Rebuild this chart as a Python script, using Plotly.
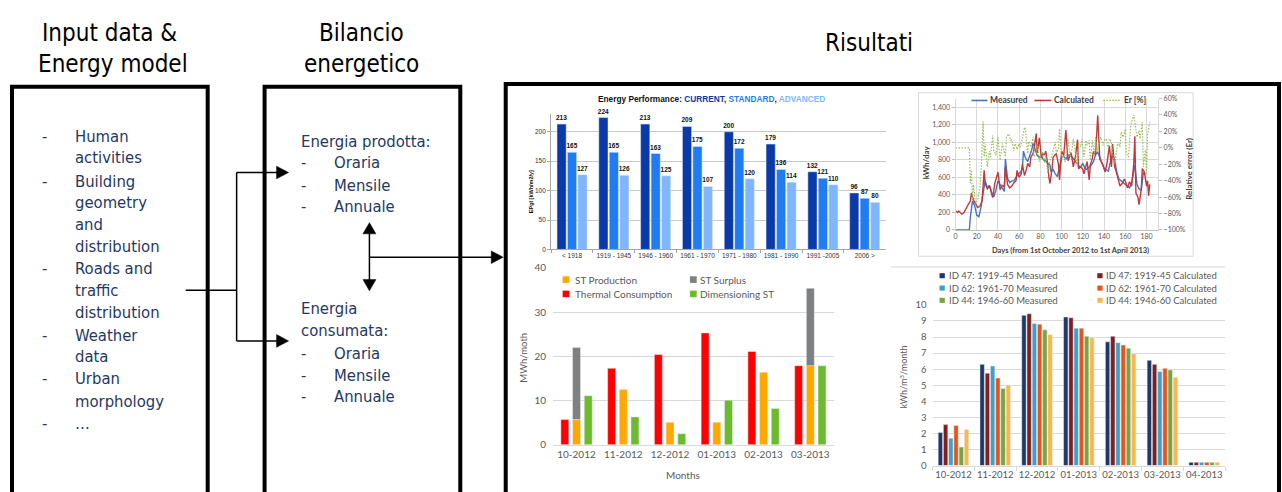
import plotly.graph_objects as go

W, H = 1282, 492
def X(p): return p / W
def Y(p): return 1 - p / H

# ---------------- data ----------------
periods = ["< 1918", "1919 - 1945", "1946 - 1960", "1961 - 1970", "1971 - 1980",
           "1981 - 1990", "1991 -2005", "2006 >"]
ep_current = [213, 224, 213, 209, 200, 179, 132, 96]
ep_standard = [165, 165, 163, 175, 172, 136, 121, 87]
ep_advanced = [127, 126, 125, 107, 120, 114, 110, 80]

meas_days = [0, 2, 4, 6, 8, 10, 12, 13, 14, 16, 18, 20, 22, 24, 26, 28, 30, 32, 34, 36, 38, 40, 42, 44, 46, 47,
             49, 51, 53, 55, 57, 59, 61, 63, 64, 66, 68, 70, 72, 73, 75, 77, 79, 81, 83, 85, 87, 89, 90, 92, 94,
             96, 98, 100, 102, 104, 106, 108, 110, 112, 114, 116, 118, 120, 122, 124, 126, 128, 130, 132, 134,
             136, 138, 140, 142, 144, 146, 148, 150, 152, 154, 156, 158, 160, 162, 164, 166, 168, 169, 171, 173,
             175, 177, 179]
meas_vals = [0, 0, 0, 0, 0, 0, 0, 0, 150, 330, 280, 170, 150, 260, 420, 560, 480, 510, 430, 380, 450, 560, 520,
             480, 440, 810, 590, 540, 560, 560, 600, 640, 650, 700, 900, 820, 780, 850, 920, 990, 920, 850, 830,
             840, 800, 790, 760, 740, 660, 690, 640, 610, 720, 830, 840, 810, 850, 860, 830, 800, 760, 730, 720,
             760, 700, 690, 720, 740, 780, 860, 890, 820, 760, 700, 690, 670, 780, 850, 800, 660, 580, 560, 540,
             510, 490, 480, 540, 680, 740, 520, 470, 450, 650, 640]

calc_days = [0, 2, 3, 4, 6, 8, 10, 12, 14, 15, 17, 19, 21, 23, 25, 27, 28, 30, 32, 33, 35, 37, 39, 40, 42, 44, 46,
             47, 49, 51, 53, 55, 57, 58, 60, 62, 63, 65, 67, 68, 70, 71, 73, 74, 76, 77, 79, 81, 82, 84, 85, 87,
             88, 89, 91, 92, 94, 95, 97, 98, 100, 102, 104, 106, 108, 109, 111, 113, 115, 116, 118, 120, 121, 123,
             124, 126, 127, 129, 130, 132, 134, 136, 138, 139, 141, 143, 145, 147, 148, 150, 152, 153, 155, 157,
             159, 160, 162, 164, 166, 168, 169, 170, 172, 173, 175, 176, 178, 180, 181, 182, 183]
calc_vals = [220, 200, 215, 205, 180, 200, 250, 290, 330, 420, 340, 290, 255, 270, 330, 680, 530, 470, 500, 460,
             370, 530, 600, 660, 460, 510, 490, 720, 520, 480, 500, 540, 560, 680, 600, 640, 750, 620, 700, 760,
             720, 830, 870, 920, 1100, 880, 1050, 820, 870, 860, 900, 740, 600, 530, 700, 830, 860, 870, 750, 570,
             900, 850, 1140, 790, 850, 880, 720, 840, 1030, 700, 720, 690, 640, 760, 780, 570, 740, 820, 900, 850,
             1310, 810, 760, 740, 660, 780, 960, 720, 980, 720, 640, 600, 500, 530, 580, 560, 480, 550, 500, 760,
             1070, 420, 370, 290, 460, 700, 660, 500, 560, 390, 520]

er_days = [0, 2, 4, 6, 8, 10, 12, 13, 14, 15, 16, 17, 19, 21, 23, 24, 26, 27, 28, 30, 32, 33, 35, 36, 38, 40, 42,
           44, 45, 47, 48, 50, 52, 53, 55, 56, 58, 60, 61, 63, 65, 66, 68, 69, 71, 73, 74, 76, 77, 79, 81, 82, 84,
           85, 87, 89, 90, 92, 94, 95, 97, 98, 100, 102, 103, 105, 106, 108, 110, 111, 113, 115, 116, 118, 119,
           121, 123, 124, 126, 127, 129, 131, 132, 134, 135, 137, 139, 140, 142, 144, 145, 147, 148, 150, 152,
           153, 155, 156, 158, 160, 161, 163, 165, 166, 168, 169, 171, 173, 174, 176, 177, 179, 180, 181, 183]
er_vals = [0, 0, 0, 0, 0, 0, 0, 0, -43, -27, -63, -45, -69, -63, -47, -31, 32, -11, 5, -23, -4, -11, 15, -3, -9,
           13, -15, 5, 1, -11, 13, 17, 9, 10, -4, 5, -2, 5, 1, 11, 25, 21, -7, 8, 1, 13, -11, -7, 5, -17, -7, -5,
           -19, -9, -31, -15, -13, -3, 7, -7, -1, 23, -11, -9, -17, -5, 11, -11, -1, 11, -7, -23, 5, 1, 11, -11,
           9, 3, 9, -15, 9, -9, 13, -5, 5, 13, 3, 9, 11, -1, 11, 7, -7, -19, -1, 7, 1, 19, 13, 23, -7, -11, 25,
           32, 40, 29, 13, 21, 11, 31, -23, -3, -31, 17, 31]

months3 = ["10-2012", "11-2012", "12-2012", "01-2013", "02-2013", "03-2013"]
thermal = [5.7, 17.3, 20.4, 25.3, 21.1, 17.9]
st_prod = [5.7, 12.5, 5.1, 5.1, 16.4, 17.9]
st_surplus = [16.3, None, None, None, None, 17.5]
dim_st = [11.1, 6.3, 2.5, 10.1, 8.2, 17.9]

months4 = ["10-2012", "11-2012", "12-2012", "01-2013", "02-2013", "03-2013", "04-2013"]
id47_meas = [2.05, 6.3, 9.35, 9.25, 7.7, 6.55, 0.2]
id47_calc = [2.55, 5.75, 9.45, 9.2, 8.05, 6.3, 0.2]
id62_meas = [1.7, 6.2, 8.85, 8.55, 7.65, 5.85, 0.2]
id62_calc = [2.5, 5.45, 8.8, 8.55, 7.5, 6.05, 0.2]
id44_meas = [1.15, 4.8, 8.45, 8.05, 7.3, 5.95, 0.2]
id44_calc = [2.25, 5.0, 8.15, 7.95, 6.95, 5.5, 0.2]

# ---------------- styles ----------------
ARIAL = "Liberation Sans, Arial, sans-serif"
NARROW = "Liberation Sans Narrow, Arial Narrow, DejaVu Sans Condensed, sans-serif"
CAL = "Lato, Carlito, Calibri, sans-serif"
NAVY_TXT = "#1f3864"
GRID = "#d9d9d9"
TICK = "#595959"

C_CUR, C_STD, C_ADV = "#0a3aa8", "#1f7cf2", "#80b6ff"
C_MEAS, C_CALC, C_ER = "#4472c4", "#c0393b", "#9bbb59"
C_RED, C_ORG, C_GRY, C_GRN = "#ff0000", "#ffa800", "#808080", "#6cbb2c"
C4 = ["#1f3864", "#7f1f1f", "#3d9fca", "#e2561c", "#77a43b", "#fdb64c"]

fig = go.Figure()

# ---- chart 1: energy performance ----
for vals, col, name in [(ep_current, C_CUR, "CURRENT"), (ep_standard, C_STD, "STANDARD"),
                        (ep_advanced, C_ADV, "ADVANCED")]:
    fig.add_trace(go.Bar(x=periods, y=vals, name=name, marker_color=col, width=0.22,
                         text=vals, texttemplate="<b>%{text}</b>", textposition="outside",
                         textfont=dict(size=6.5, family=ARIAL, color="#111"), constraintext="none",
                         cliponaxis=False, showlegend=False, xaxis="x", yaxis="y"))

# ---- chart 2: daily lines ----
fig.add_trace(go.Scatter(x=meas_days, y=meas_vals, mode="lines", name="Measured",
                         line=dict(color=C_MEAS, width=1.4), showlegend=False, xaxis="x2", yaxis="y2"))
fig.add_trace(go.Scatter(x=calc_days, y=calc_vals, mode="lines", name="Calculated",
                         line=dict(color=C_CALC, width=1.4), showlegend=False, xaxis="x2", yaxis="y2"))
fig.add_trace(go.Scatter(x=er_days, y=er_vals, mode="lines", name="Er [%]",
                         line=dict(color=C_ER, width=1.2, dash="1.5px,1.5px"), showlegend=False,
                         xaxis="x2", yaxis="y3"))

# ---- chart 3: ST bars ----
fig.add_trace(go.Bar(x=months3, y=thermal, name="Thermal Consumption", marker_color=C_RED, width=0.17,
                     offsetgroup="a", showlegend=False, xaxis="x4", yaxis="y4"))
fig.add_trace(go.Bar(x=months3, y=st_prod, name="ST Production", marker_color=C_ORG, width=0.17,
                     offsetgroup="b", showlegend=False, xaxis="x4", yaxis="y4"))
fig.add_trace(go.Bar(x=months3, y=st_surplus, base=st_prod, name="ST Surplus", marker_color=C_GRY, width=0.17,
                     offsetgroup="b", showlegend=False, xaxis="x4", yaxis="y4"))
fig.add_trace(go.Bar(x=months3, y=dim_st, name="Dimensioning ST", marker_color=C_GRN, width=0.17,
                     offsetgroup="c", showlegend=False, xaxis="x4", yaxis="y4"))

# ---- chart 4: buildings ----
names4 = ["ID 47: 1919-45 Measured", "ID 47: 1919-45 Calculated", "ID 62: 1961-70 Measured",
          "ID 62: 1961-70 Calculated", "ID 44: 1946-60 Measured", "ID 44: 1946-60 Calculated"]
for vals, col, nm in zip([id47_meas, id47_calc, id62_meas, id62_calc, id44_meas, id44_calc], C4, names4):
    fig.add_trace(go.Bar(x=months4, y=vals, name=nm, marker_color=col, width=0.105,
                         showlegend=False, xaxis="x5", yaxis="y5"))

# ---------------- axes ----------------
tf1 = dict(size=6.5, family=ARIAL, color="#333")
layout_axes = dict(
    xaxis=dict(domain=[X(550), X(885)], anchor="y", type="category", showline=True, linecolor="#a6a6a6",
               ticks="outside", tickson="boundaries", ticklen=3, tickcolor="#a6a6a6", tickfont=tf1,
               tickangle=0, showgrid=False),
    yaxis=dict(domain=[Y(249), Y(110)], anchor="x", range=[0, 230], dtick=50, showline=True,
               linecolor="#a6a6a6", ticks="outside", ticklen=3, tickcolor="#a6a6a6", tickfont=tf1,
               gridcolor="#c8c8c8", zeroline=False),
    xaxis2=dict(domain=[X(955), X(1158)], anchor="y2", range=[0, 191], tick0=0, dtick=20, showgrid=True,
                gridcolor=GRID, showline=True, linecolor="#bfbfbf", zeroline=False, tickangle=0,
                tickfont=dict(size=7, family=CAL, color=TICK)),
    yaxis2=dict(domain=[Y(229), Y(94)], anchor="x2", range=[0, 1500], tick0=0, dtick=200, tickformat=",d",
                gridcolor=GRID, showline=True, linecolor=GRID, ticks="outside", ticklen=3, tickcolor="#bfbfbf",
                zeroline=False, tickfont=dict(size=7, family=CAL, color=TICK)),
    yaxis3=dict(overlaying="y2", anchor="x2", side="right", range=[-100, 60], tick0=-100, dtick=20,
                ticksuffix="%", showgrid=False, showline=True, linecolor=GRID, ticks="outside", ticklen=3,
                tickcolor="#bfbfbf", zeroline=False, tickfont=dict(size=7, family=CAL, color=TICK)),
    xaxis4=dict(domain=[X(552), X(833)], anchor="y4", type="category", showline=True, linecolor=GRID,
                showgrid=False, tickangle=0, tickfont=dict(size=10, family=CAL, color=TICK)),
    yaxis4=dict(domain=[Y(449.7), Y(268)], anchor="x4", range=[0, 40], dtick=10, gridcolor=GRID,
                showline=False, zeroline=False, ticklabelstandoff=6,
                tickfont=dict(size=10, family=CAL, color=TICK)),
    xaxis5=dict(domain=[X(932), X(1225)], anchor="y5", type="category", showline=True, linecolor=GRID,
                ticks="outside", tickson="boundaries", ticklen=4, tickcolor=GRID, showgrid=False,
                tickangle=0, tickfont=dict(size=9.5, family=CAL, color=TICK)),
    yaxis5=dict(domain=[Y(471), Y(306)], anchor="x5", range=[0, 10], dtick=1, gridcolor=GRID,
                showline=False, zeroline=False, ticklabelstandoff=5,
                tickfont=dict(size=9.5, family=CAL, color=TICK)),
)

# ---------------- shapes ----------------
shapes = []
def rect(x0, y0, x1, y1, **kw):
    shapes.append(dict(type="rect", xref="paper", yref="paper", x0=X(x0), x1=X(x1), y0=Y(y1), y1=Y(y0), **kw))
def line(x0, y0, x1, y1, color="black", width=1.5, dash=None):
    d = dict(type="line", xref="paper", yref="paper", x0=X(x0), x1=X(x1), y0=Y(y0), y1=Y(y1),
             line=dict(color=color, width=width))
    if dash:
        d["line"]["dash"] = dash
    shapes.append(d)
def tri(p1, p2, p3):
    path = "M%.5f,%.5f L%.5f,%.5f L%.5f,%.5f Z" % (X(p1[0]), Y(p1[1]), X(p2[0]), Y(p2[1]), X(p3[0]), Y(p3[1]))
    shapes.append(dict(type="path", xref="paper", yref="paper", path=path, fillcolor="black",
                       line=dict(color="black", width=0.5)))

# big boxes
for (l, r, t) in [(10, 206, 82), (263, 459, 82), (504.5, 1279, 79)]:
    rect(l, t, r, 510, line=dict(color="black", width=4), fillcolor="rgba(0,0,0,0)", layer="above")

# connectors with arrowheads
line(184, 291, 235, 291)
line(235, 170, 235, 343)
line(235, 170, 276, 170)
line(235, 343, 276, 343)
tri((287, 170), (275, 163.5), (275, 176.5))
tri((287, 343), (275, 336.5), (275, 349.5))
line(368, 232, 368, 281)
tri((368, 221.5), (361.5, 233), (374.5, 233))
tri((368, 291.5), (361.5, 280), (374.5, 280))
line(368, 257, 492, 257)
tri((502, 257), (490, 250.5), (490, 263.5))

# chart frames
rect(918, 88, 1193, 256, line=dict(color=GRID, width=1), fillcolor="rgba(0,0,0,0)", layer="below")
line(890, 267, 1225, 267, color=GRID, width=1)

# manual legends
line(971, 96, 987, 96, color=C_MEAS, width=1.6)
line(1034, 96, 1051, 96, color=C_CALC, width=1.6)
line(1103, 96, 1120, 96, color=C_ER, width=1.3, dash="1.5px,1.5px")
for (sx, sy, col) in [(561.5, 280, C_ORG), (689, 280, C_GRY), (561.5, 294.7, C_RED), (689, 294.7, C_GRN)]:
    rect(sx, sy - 3.4, sx + 6.8, sy + 3.4, line=dict(width=0), fillcolor=col)
leg4_pos = [(939, 276), (1097, 276), (939, 288.7), (1097, 288.7), (939, 301.3), (1097, 301.3)]
for (sx, sy), col in zip(leg4_pos, C4):
    rect(sx, sy - 2.6, sx + 5.3, sy + 2.6, line=dict(width=0), fillcolor=col)

# ---------------- annotations ----------------
ann = []
def text(x, y, s, size, family=NARROW, color="black", xa="center", ya="middle", angle=0, **kw):
    ann.append(dict(x=X(x), y=Y(y), xref="paper", yref="paper", text=s, showarrow=False, xanchor=xa,
                    yanchor=ya, textangle=angle, font=dict(size=size, family=family, color=color), **kw))

HS = 24   # heading size
BS = 16.5 # box text size
text(108, 27, "Input data &", HS)
text(111, 59, "Energy model", HS)
text(360, 27, "Bilancio", HS)
text(360, 59, "energetico", HS)
text(868, 37, "Risultati", HS)

box1 = [(133, "Human", True), (155, "activities", False), (179, "Building", True), (201, "geometry", False),
        (223, "and", False), (246, "distribution", False), (269, "Roads and", True), (291, "traffic", False),
        (314, "distribution", False), (337, "Weather", True), (359, "data", False), (382, "Urban", True),
        (405, "morphology", False), (428, "…", True)]
for y, s, dash in box1:
    text(71, y, s, BS, color=NAVY_TXT, xa="left")
    if dash:
        text(38, y, "-", BS, color=NAVY_TXT, xa="left")

text(297, 138, "Energia prodotta:", BS, color=NAVY_TXT, xa="left")
text(297, 310, "Energia", BS, color=NAVY_TXT, xa="left")
text(297, 332, "consumata:", BS, color=NAVY_TXT, xa="left")
for y, s in [(160, "Oraria"), (183, "Mensile"), (205, "Annuale"), (356, "Oraria"), (378, "Mensile"),
             (400, "Annuale")]:
    text(297, y, "-", BS, color=NAVY_TXT, xa="left")
    text(331, y, s, BS, color=NAVY_TXT, xa="left")

text(711, 94, "<b>Energy Performance: <span style='color:%s'>CURRENT</span>, "
              "<span style='color:%s'>STANDARD</span>, <span style='color:%s'>ADVANCED</span></b>"
     % (C_CUR, C_STD, C_ADV), 8.3, family=ARIAL, color="#111")
text(530, 190, "<b>EPgl [kWh/m2/y]</b>", 5.5, family=ARIAL, color="#111", angle=-90)

text(1070, 250, "<b>Days (from 1st October 2012 to 1st April 2013)</b>", 7.5, family=CAL, color="#404040")
text(925, 160, "<b>kWh/day</b>", 8, family=CAL, color="#404040", angle=-90)
text(1188, 166, "<b>Relative error (Er)</b>", 8, family=CAL, color="#404040", angle=-90)
text(988, 96, "<b>Measured</b>", 8.5, family=CAL, color="#404040", xa="left")
text(1052, 96, "<b>Calculated</b>", 8.5, family=CAL, color="#404040", xa="left")
text(1122, 96, "<b>Er [%]</b>", 8.5, family=CAL, color="#404040", xa="left")

text(522, 360, "MWh/moth", 9.5, family=CAL, color=TICK, angle=-90)
text(682, 481, "Months", 10, family=CAL, color=TICK)
for (x, y, s) in [(572, 280, "ST Production"), (697, 280, "ST Surplus"), (572, 294.7, "Thermal Consumption"),
                  (697, 294.7, "Dimensioning ST")]:
    text(x, y, s, 10, family=CAL, color=TICK, xa="left")

text(903, 380, "kWh/m<sup>3</sup>/month", 9, family=CAL, color=TICK, angle=-90)
for (sx, sy), nm in zip(leg4_pos, names4):
    text(sx + 7, sy, nm, 9.5, family=CAL, color=TICK, xa="left")

fig.update_layout(
    width=W, height=H, margin=dict(l=0, r=0, t=0, b=0), paper_bgcolor="white", plot_bgcolor="white",
    barmode="group", bargap=0.25, bargroupgap=0, showlegend=False,
    shapes=shapes, annotations=ann, **layout_axes,
)

fig.write_html("out.html", config={"displayModeBar": False},
               post_script="document.body.style.margin='0';document.body.style.overflow='hidden';")
